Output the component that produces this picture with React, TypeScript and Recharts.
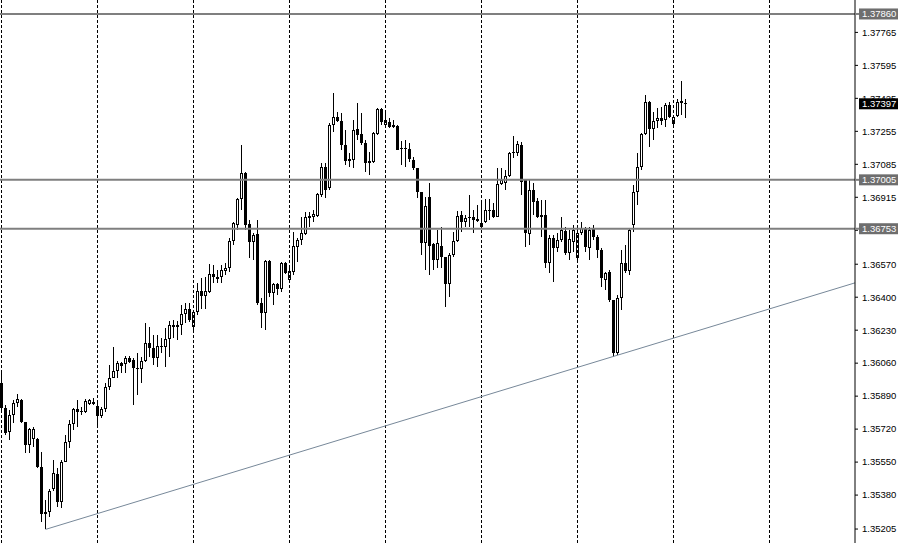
import { Bar, ComposedChart, ReferenceLine, XAxis, YAxis } from "recharts";

// Candle values, one entry per bar (left to right).
const opens = [
  1.3596, 1.35831, 1.35707, 1.35795, 1.35857, 1.35872, 1.35759, 1.3564, 1.35671, 1.35671,
  1.35527, 1.3528, 1.35291, 1.35409, 1.35491, 1.35342, 1.35553, 1.35656, 1.35748, 1.35826,
  1.35815, 1.3581, 1.35852, 1.35862, 1.35841, 1.3579, 1.35826, 1.35939, 1.35981, 1.36021,
  1.36063, 1.36058, 1.36088, 1.36078, 1.36037, 1.36032, 1.36073, 1.36166, 1.3614, 1.36088,
  1.3615, 1.36145, 1.36186, 1.36258, 1.36258, 1.36258, 1.36315, 1.3634, 1.36248, 1.36325,
  1.36433, 1.36408, 1.36428, 1.3652, 1.36505, 1.36505, 1.36536, 1.36552, 1.36691, 1.36774,
  1.36907, 1.37041, 1.36779, 1.36686, 1.36727, 1.36371, 1.3632, 1.36588, 1.36423, 1.36469,
  1.36444, 1.36577, 1.3649, 1.36531, 1.3666, 1.36696, 1.36727, 1.36809, 1.36814, 1.3682,
  1.36928, 1.37072, 1.36964, 1.37288, 1.37329, 1.37309, 1.37185, 1.37103, 1.37108, 1.37268,
  1.37242, 1.37196, 1.37103, 1.37098, 1.37242, 1.37371, 1.37288, 1.37304, 1.37288, 1.37283,
  1.3717, 1.3717, 1.37165, 1.37108, 1.37067, 1.36943, 1.36681, 1.36917, 1.36676, 1.36593,
  1.36665, 1.36608, 1.36469, 1.36619, 1.36691, 1.36825, 1.36789, 1.36809, 1.36814, 1.36804,
  1.36784, 1.36789, 1.36845, 1.36851, 1.36814, 1.36985, 1.3699, 1.37026, 1.37144, 1.37144,
  1.37185, 1.37011, 1.36727, 1.36954, 1.36897, 1.36825, 1.36825, 1.36577, 1.36706, 1.36655,
  1.36696, 1.36742, 1.36629, 1.36686, 1.36603, 1.36732, 1.36758, 1.36655, 1.36758, 1.36711,
  1.36645, 1.3649, 1.36531, 1.36387, 1.36114, 1.36397, 1.36577, 1.36536, 1.36774, 1.36943,
  1.37072, 1.37242, 1.37407, 1.37268, 1.37309, 1.37324, 1.37314, 1.37391, 1.37293, 1.37334,
  1.37402, 1.37402,
];

const highs = [
  1.36011, 1.35846, 1.35821, 1.35872, 1.35903, 1.35877, 1.35759, 1.35728, 1.35733, 1.35676,
  1.35604, 1.35357, 1.35409, 1.35563, 1.35522, 1.35563, 1.35692, 1.35769, 1.35831, 1.35872,
  1.35836, 1.35877, 1.35877, 1.35882, 1.35872, 1.35836, 1.3596, 1.36052, 1.36145, 1.36073,
  1.36068, 1.36098, 1.36098, 1.36088, 1.36114, 1.36093, 1.36269, 1.36248, 1.36207, 1.36207,
  1.36191, 1.36243, 1.36279, 1.36284, 1.36279, 1.36361, 1.36371, 1.36371, 1.36335, 1.36474,
  1.365, 1.36505, 1.36572, 1.36567, 1.36541, 1.36567, 1.36577, 1.36706, 1.36789, 1.36912,
  1.37185, 1.37046, 1.36799, 1.36732, 1.36799, 1.36397, 1.36593, 1.36593, 1.36474, 1.36474,
  1.36583, 1.36583, 1.36557, 1.36737, 1.36706, 1.36814, 1.3684, 1.3684, 1.36851, 1.36938,
  1.37093, 1.37093, 1.37299, 1.37453, 1.37355, 1.3735, 1.37263, 1.37144, 1.37314, 1.37402,
  1.3735, 1.37211, 1.37149, 1.37252, 1.37376, 1.37376, 1.37355, 1.37324, 1.37314, 1.37288,
  1.37206, 1.37211, 1.37196, 1.37123, 1.37067, 1.36943, 1.36917, 1.3699, 1.36681, 1.36748,
  1.36763, 1.36608, 1.36629, 1.36737, 1.36845, 1.36845, 1.36825, 1.36928, 1.36851, 1.36876,
  1.36892, 1.36907, 1.36907, 1.36887, 1.37067, 1.37067, 1.37057, 1.37149, 1.37232, 1.37206,
  1.37201, 1.37011, 1.37005, 1.3699, 1.36912, 1.36902, 1.36902, 1.36722, 1.36722, 1.36732,
  1.36814, 1.36763, 1.36748, 1.36774, 1.36758, 1.36789, 1.36763, 1.36763, 1.36774, 1.36722,
  1.36655, 1.36531, 1.36541, 1.36387, 1.36413, 1.36645, 1.3667, 1.36758, 1.36979, 1.37144,
  1.37247, 1.3744, 1.37412, 1.37355, 1.37376, 1.37381, 1.37402, 1.37407, 1.3734, 1.37422,
  1.37515, 1.37422,
];

const lows = [
  1.35805, 1.35692, 1.35666, 1.35754, 1.35836, 1.35754, 1.35599, 1.35599, 1.3563, 1.35522,
  1.35239, 1.35203, 1.35265, 1.35399, 1.35316, 1.35311, 1.35548, 1.35625, 1.35718, 1.35733,
  1.35795, 1.35805, 1.35846, 1.35846, 1.35743, 1.35779, 1.3581, 1.35924, 1.36001, 1.35985,
  1.36011, 1.36011, 1.36063, 1.35846, 1.35898, 1.3596, 1.36068, 1.36093, 1.36052, 1.36042,
  1.36114, 1.36042, 1.36093, 1.36191, 1.36181, 1.36207, 1.36269, 1.36274, 1.36232, 1.3631,
  1.3634, 1.3634, 1.36423, 1.36474, 1.36474, 1.36474, 1.36516, 1.36531, 1.3667, 1.36748,
  1.36851, 1.36748, 1.36603, 1.36593, 1.36361, 1.36243, 1.36232, 1.36403, 1.36361, 1.36413,
  1.36428, 1.36521, 1.3648, 1.36516, 1.36583, 1.3667, 1.36722, 1.36763, 1.36789, 1.36814,
  1.36917, 1.36912, 1.36954, 1.37252, 1.37304, 1.3716, 1.37082, 1.37072, 1.37067, 1.37211,
  1.37185, 1.37046, 1.37031, 1.37093, 1.37237, 1.37288, 1.37278, 1.37273, 1.37273, 1.3716,
  1.37082, 1.37072, 1.37098, 1.37057, 1.36912, 1.36619, 1.36541, 1.36516, 1.36541, 1.36552,
  1.36552, 1.36351, 1.36403, 1.36608, 1.36686, 1.36737, 1.36763, 1.36763, 1.36732, 1.36789,
  1.36758, 1.36784, 1.36799, 1.36809, 1.36814, 1.3698, 1.36954, 1.37021, 1.37119, 1.37129,
  1.36928, 1.3666, 1.3667, 1.36825, 1.36809, 1.36711, 1.36552, 1.36526, 1.3648, 1.36634,
  1.36686, 1.36619, 1.36593, 1.36634, 1.36593, 1.36722, 1.36634, 1.36593, 1.36696, 1.36603,
  1.36454, 1.36439, 1.36377, 1.36093, 1.36104, 1.36335, 1.36526, 1.36516, 1.36737, 1.36876,
  1.37057, 1.37237, 1.37175, 1.37211, 1.37273, 1.37288, 1.37278, 1.37324, 1.37273, 1.37329,
  1.3734, 1.37324,
];

const closes = [
  1.35831, 1.35702, 1.35795, 1.35857, 1.35877, 1.35759, 1.3564, 1.35723, 1.35723, 1.35527,
  1.3528, 1.35291, 1.35399, 1.35496, 1.35342, 1.35553, 1.35656, 1.35748, 1.35826, 1.3581,
  1.35813, 1.35867, 1.35868, 1.35851, 1.3579, 1.35826, 1.35939, 1.35981, 1.36021, 1.36063,
  1.36047, 1.36088, 1.36068, 1.36037, 1.36032, 1.36073, 1.36166, 1.3614, 1.36088, 1.3615,
  1.36145, 1.36186, 1.36258, 1.36248, 1.36248, 1.36315, 1.3634, 1.36284, 1.36325, 1.36433,
  1.36408, 1.36433, 1.3652, 1.36505, 1.36495, 1.36541, 1.36552, 1.36691, 1.36784, 1.36907,
  1.37041, 1.36774, 1.36686, 1.36722, 1.36371, 1.3632, 1.36588, 1.36423, 1.36469, 1.36444,
  1.36577, 1.36526, 1.36536, 1.36665, 1.36696, 1.36732, 1.36814, 1.3682, 1.3683, 1.36933,
  1.37072, 1.36954, 1.37288, 1.37329, 1.37309, 1.37185, 1.37103, 1.37113, 1.37263, 1.37237,
  1.37196, 1.37093, 1.37093, 1.37247, 1.37371, 1.37304, 1.37314, 1.37278, 1.37278, 1.3716,
  1.37165, 1.37165, 1.37113, 1.37067, 1.36943, 1.36681, 1.36871, 1.36665, 1.36593, 1.36681,
  1.36608, 1.36469, 1.36619, 1.36691, 1.3682, 1.36789, 1.36809, 1.36814, 1.36799, 1.36794,
  1.36763, 1.36851, 1.36851, 1.36814, 1.36985, 1.37005, 1.37026, 1.37144, 1.37149, 1.3719,
  1.36995, 1.36732, 1.36954, 1.36892, 1.36814, 1.36814, 1.36577, 1.36706, 1.36655, 1.36696,
  1.36748, 1.36629, 1.36701, 1.36748, 1.36732, 1.36758, 1.3666, 1.36748, 1.36711, 1.36645,
  1.365, 1.36526, 1.36387, 1.36114, 1.36397, 1.36577, 1.36536, 1.36748, 1.36943, 1.37072,
  1.37242, 1.37407, 1.37268, 1.37309, 1.37324, 1.37309, 1.37391, 1.37329, 1.37329, 1.37407,
  1.37412, 1.37397,
];

const axisTicks = [
  1.37765, 1.37595, 1.37425, 1.37255, 1.37085, 1.36915, 1.36745, 1.3657, 1.364, 1.3623,
  1.3606, 1.3589, 1.3572, 1.3555, 1.3538, 1.35205,
];
const levelLines = [1.3786, 1.37005, 1.36753];
const lastPrice = 1.37397;
const gridBars = [0, 24, 48, 72, 96, 120, 144, 168, 192];
const trendStart = { bar: 11, price: 1.35203 };
const trendEnd = { bar: 213.375, price: 1.36474 };

const rows = opens.map((o, i) => ({ i, o, h: highs[i], l: lows[i], c: closes[i] }));

const FONT = "'Liberation Sans', Arial, sans-serif";

function Candle(props: any) {
  const { x, y, width, height, payload } = props;
  if (!payload || !height) return null;
  const { o, h, l, c } = payload;
  const k = height / (h - l);
  const cx = Math.floor(x + width / 2) + 0.5;
  const py = (v: number) => y + (h - v) * k;
  const top = Math.round(py(Math.max(o, c)));
  const bot = Math.round(py(Math.min(o, c)));
  const wTop = Math.round(y);
  const wBot = Math.round(y + height);
  const up = c >= o;
  return (
    <g>
      <line x1={cx} x2={cx} y1={wTop} y2={wBot} stroke="#000" strokeWidth={1} />
      {up ? (
        bot - top >= 2 ? (
          <rect x={cx - 1} y={top + 0.5} width={2} height={bot - top - 1} fill="#fff" stroke="#000" strokeWidth={1} />
        ) : (
          <line x1={cx - 1.5} x2={cx + 1.5} y1={top + 0.5} y2={top + 0.5} stroke="#000" strokeWidth={1} />
        )
      ) : (
        <rect x={cx - 1.5} y={top} width={3} height={Math.max(bot - top, 1)} fill="#000" />
      )}
    </g>
  );
}

function PriceTick(props: any) {
  const { x, y, payload } = props;
  const v: number = payload.value;
  const label = v.toFixed(5);
  const isLevel = levelLines.includes(v);
  if (isLevel || v === lastPrice) {
    return (
      <g>
        {isLevel && <line x1={x} x2={x + 5} y1={y} y2={y} stroke="#7f7f7f" strokeWidth={2} />}
        <rect x={x + 4} y={y - 5.5} width={39} height={11} fill={isLevel ? "#6e6e6e" : "#000"} />
        <text x={x + 7} y={y} dy="0.35em" fill="#fff" fontSize={9.5} fontFamily={FONT}>
          {label}
        </text>
      </g>
    );
  }
  return (
    <g>
      <line x1={x} x2={x + 3} y1={y} y2={y} stroke="#000" strokeWidth={1} />
      <text x={x + 7} y={y} dy="0.35em" fill="#000" fontSize={9.5} fontFamily={FONT}>
        {label}
      </text>
    </g>
  );
}

export default function App() {
  return (
    <div style={{ position: "absolute", left: 0, top: 0, background: "#fff" }}>
      <ComposedChart width={904} height={543} data={rows} margin={{ top: 0, right: 0, bottom: 0, left: 0 }}>
        <XAxis dataKey="i" type="number" domain={[-0.375, 213.375]} allowDataOverflow hide />
        <YAxis
          orientation="right"
          type="number"
          domain={[1.35133, 1.37932]}
          allowDataOverflow
          ticks={[...axisTicks, ...levelLines, lastPrice]}
          interval={0}
          width={49}
          tickSize={0}
          tickMargin={0}
          tickLine={false}
          axisLine={{ stroke: "#000" }}
          tick={(p: any) => <PriceTick {...p} />}
        />
        {gridBars.map((b) => (
          <ReferenceLine key={`g${b}`} x={b} stroke="#000" strokeWidth={1} strokeDasharray="3 2" />
        ))}
        <Bar
          dataKey={(d: any) => [d.l, d.h]}
          barSize={3}
          shape={(p: any) => <Candle {...p} />}
          isAnimationActive={false}
        />
        {levelLines.map((v) => (
          <ReferenceLine key={`l${v}`} y={v} stroke="#7f7f7f" strokeWidth={2} />
        ))}
        <ReferenceLine
          segment={[
            { x: trendStart.bar, y: trendStart.price },
            { x: trendEnd.bar, y: trendEnd.price },
          ]}
          stroke="#778899"
          strokeWidth={1}
        />
      </ComposedChart>
    </div>
  );
}
